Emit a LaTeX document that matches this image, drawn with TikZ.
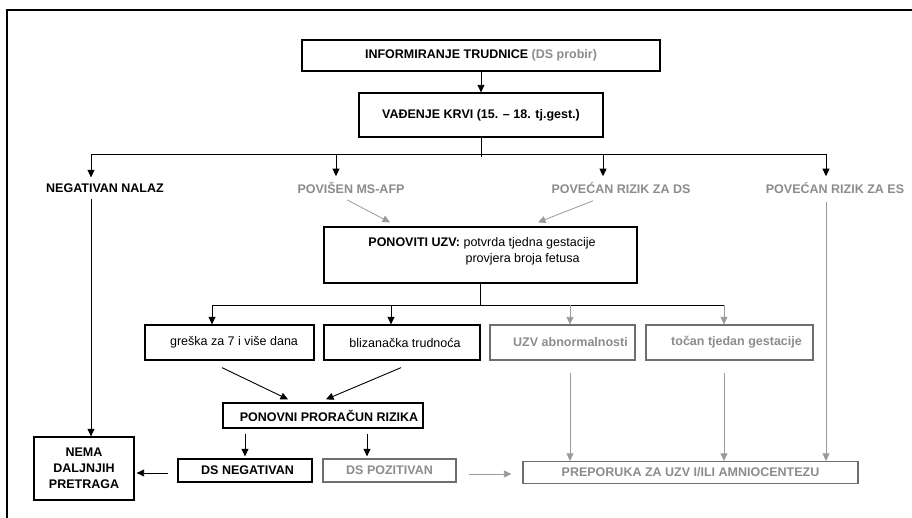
\documentclass[tikz,border=0pt]{standalone}
\usepackage{fontspec}
\setmainfont{Liberation Sans}
\usetikzlibrary{arrows.meta,calc}
\definecolor{txtgray}{HTML}{8C8C8C}
\definecolor{linegray}{HTML}{9A9A9A}
\definecolor{boxgray}{HTML}{6E6E6E}
\begin{document}
\begin{tikzpicture}[x=1pt,y=-1pt,
  every node/.style={font=\fontsize{12.5}{16}\selectfont},
  box/.style={draw=black, line width=1.3pt, inner sep=0pt, align=center},
  gbox/.style={box, draw=boxgray, text=txtgray},
  lbl/.style={inner sep=2pt},
  glbl/.style={inner sep=2pt, text=txtgray},
  arr/.style={line width=0.9pt, -{Triangle[length=7.5pt,width=7pt]}},
  garr/.style={line width=0.8pt, draw=linegray, -{Triangle[length=7.5pt,width=7pt]}, color=linegray},
  ln/.style={line width=0.9pt}]
\useasboundingbox (0,0) rectangle (912,518);
\fill[white] (0,0) rectangle (912,518);
% frame
\draw[line width=1.2pt] (912,10) -- (7,10) -- (7,518);

% top boxes
\node[box, minimum width=358pt, minimum height=31pt] (inf) at (481,55.5)
  {\textbf{INFORMIRANJE TRUDNICE} \textcolor{txtgray}{\textbf{(DS probir)}}};
\node[box, minimum width=244pt, minimum height=44pt] (vad) at (481,115)
  {\textbf{VAĐENJE KRVI (15. – 18. tj.gest.)}};
\draw[arr] (inf) -- (vad);

% first level labels
\node[lbl] (neg) at (105,188) {\textbf{NEGATIVAN NALAZ}};
\node[glbl] (ms) at (351,188) {\textbf{POVIŠEN MS-AFP}};
\node[glbl] (ds) at (621,188) {\textbf{POVEĆAN RIZIK ZA DS}};
\node[glbl] (es) at (835,188) {\textbf{POVEĆAN RIZIK ZA ES}};

% bus 1
\coordinate (bA) at (91,154);
\coordinate (bB) at (336,154);
\coordinate (bC) at (603,154);
\coordinate (bD) at (826,154);
\coordinate (bM) at (481,157);
\draw[ln] (vad.south) -- (bM);
\draw[ln] (bA) -- (bD);
\draw[arr, shorten >=4pt] (bA) -- (bA |- neg.north);
\draw[arr, shorten >=4pt] (bB) -- (bB |- ms.north);
\draw[arr, shorten >=4pt] (bC) -- (bC |- ds.north);
\draw[arr, shorten >=4pt] (bD) -- (bD |- es.north);

% PONOVITI UZV
\node[box, minimum width=313pt, minimum height=56pt] (ponov) at (480.5,255) {};
\node[inner sep=0pt, align=left] (ponovtxt) at (482,251)
  {\textbf{PONOVITI UZV:} potvrda tjedna gestacije\\
   \hphantom{\textbf{PONOVITI UZV:} }\hspace{2pt}provjera broja fetusa};
\draw[garr] ($(ms.south)+(-4,4)$) -- ($(ponov.north)+(-90.5,-4)$);
\draw[garr] ($(ds.south)+(-28,5)$) -- ($(ponov.north)+(57.5,-4)$);

% second row
\node[box, minimum width=169pt, minimum height=35pt] (greska) at (229.5,342.5) {\hspace*{9pt}greška za 7 i više dana};
\node[box, minimum width=156pt, minimum height=35pt] (bliz) at (402,342.5) {\hspace*{6pt}blizanačka trudnoća};
\node[gbox, minimum width=145pt, minimum height=35pt] (uzv) at (562.5,342.5) {\hspace*{16pt}\textbf{UZV abnormalnosti}};
\node[gbox, minimum width=167pt, minimum height=35pt] (tocan) at (729.5,342.5) {\hspace*{14pt}\textbf{točan tjedan gestacije}};

% bus 2
\coordinate (cA) at (212,305);
\coordinate (cB) at (391,305);
\coordinate (cC) at (570,305);
\coordinate (cD) at (724,305);
\coordinate (cM) at (480.5,305);
\draw[ln] (ponov.south) -- (cM);
\draw[ln] (cA) -- (cD);
\draw[arr] (cA) -- (cA |- greska.north);
\draw[arr] (cB) -- (cB |- bliz.north);
\draw[garr] (cC) -- (cC |- uzv.north);
\draw[garr] (cD) -- (cD |- tocan.north);

% recalculation
\node[box, minimum width=200pt, minimum height=25pt] (pon2) at (323,415.5) {\hspace*{12pt}\textbf{PONOVNI PRORAČUN RIZIKA}};
\draw[arr] ($(greska.south)+(-7.5,7)$) -- ($(pon2.north)+(-35,-3)$);
\draw[arr] ($(bliz.south)+(-1,7)$) -- ($(pon2.north)+(3,-3)$);

% bottom row
\node[box, minimum width=134pt, minimum height=23pt] (dsneg) at (245,470.5) {\hspace*{5pt}\textbf{DS NEGATIVAN}};
\node[gbox, minimum width=133pt, minimum height=23pt] (dspoz) at (389.5,470.5) {\textbf{DS POZITIVAN}};
\node[box, minimum width=100pt, minimum height=63pt] (nema) at (84,468.5)
  {\textbf{NEMA}\\\textbf{DALJNJIH}\\\textbf{PRETRAGA}};
\node[gbox, minimum width=335pt, minimum height=22pt] (prep) at (690.5,472.5) {\textbf{PREPORUKA ZA UZV I/ILI AMNIOCENTEZU}};

\draw[arr] ($(pon2.south)+(-78,5)$) -- ($(dsneg.north)+(0,-2)$);
\draw[arr] ($(pon2.south)+(44,5)$) -- ($(dspoz.north)+(-22.5,-2)$);
\draw[arr] ($(dsneg.west)+(-9,2.5)$) -- ($(nema.east)+(2,4.5)$);
\draw[garr] ($(dspoz.east)+(12,3.5)$) -- ($(prep.west)+(-11,1.5)$);

% long verticals
\coordinate (n1) at ($(neg.south)+(-14,4)$);
\draw[ln, -{Triangle[length=7.5pt,width=7pt]}] (n1) -- (n1 |- nema.north);
\coordinate (u1) at ($(uzv.south)+(7.5,12)$);
\draw[garr] (u1) -- (u1 |- prep.north);
\coordinate (t1) at ($(tocan.south)+(-5.5,12)$);
\draw[garr] (t1) -- (t1 |- prep.north);
\coordinate (e1) at ($(es.south)+(-9,6)$);
\draw[garr] (e1) -- (e1 |- prep.north);
\end{tikzpicture}
\end{document}
